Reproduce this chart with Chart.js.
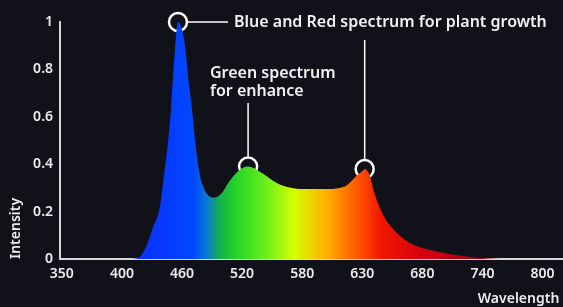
<!DOCTYPE html>
<html>
<head>
<meta charset="utf-8">
<script src="https://cdn.jsdelivr.net/npm/chart.js@4.4.0/dist/chart.umd.min.js"></script>
<style>
  html, body { margin: 0; padding: 0; background: #111119; }
  #wrap { width: 563px; height: 307px; position: relative; }
</style>
</head>
<body>
<div id="wrap"><canvas id="grafico"></canvas></div>
<script>
// tick labels of the wavelength axis (they sit at equal spacing)
const tickLabels = [350, 400, 460, 520, 580, 630, 680, 740, 800];
const yTicks = [0, 0.2, 0.4, 0.6, 0.8, 1];

// spectrum
const wavelength = [410, 418, 425, 430, 438, 442, 446, 449, 451, 453, 456, 463, 466, 470, 474, 478, 484, 493, 500, 506, 516, 526, 537, 555, 570, 586, 600, 611, 617, 625, 630, 632, 636, 640, 647, 655, 669, 697, 737, 757, 800];
const intensity  = [0, 0.01, 0.06, 0.12, 0.22, 0.35, 0.49, 0.63, 0.77, 0.88, 1.0, 0.90, 0.77, 0.63, 0.46, 0.35, 0.28, 0.26, 0.28, 0.32, 0.37, 0.39, 0.37, 0.32, 0.30, 0.295, 0.295, 0.30, 0.31, 0.35, 0.37, 0.38, 0.355, 0.28, 0.19, 0.13, 0.07, 0.03, 0.005, 0, 0];

// the marked peaks
const peakWave = [456, 526, 632];
const peakValue = [1.0, 0.39, 0.38];

// wavelength -> position on the evenly spaced axis
function toPos(w) {
  for (var i = 0; i < tickLabels.length - 1; i++) {
    if (w <= tickLabels[i + 1]) {
      return i + (w - tickLabels[i]) / (tickLabels[i + 1] - tickLabels[i]);
    }
  }
  return tickLabels.length - 1;
}

// colour stops of the fill, by wavelength
const stopWave  = [420, 472, 484, 498, 515, 545, 572, 600, 625, 645, 680, 740];
const stopColor = ['#0a30ff', '#0048ff', '#0a78d8', '#16b04a', '#26d626', '#6ef01a', '#d4ff00', '#ffb000', '#ff5a00', '#f21800', '#d60010', '#a00018'];

function spectrumFill(context) {
  const chart = context.chart;
  const area = chart.chartArea;
  if (!area) return '#0048ff';
  const x = chart.scales.x;
  const g = chart.ctx.createLinearGradient(area.left, 0, area.right, 0);
  const w = area.right - area.left;
  for (var i = 0; i < stopWave.length; i++) {
    var p = (x.getPixelForValue(toPos(stopWave[i])) - area.left) / w;
    g.addColorStop(Math.min(1, Math.max(0, p)), stopColor[i]);
  }
  return g;
}

const notas = {
  id: 'notas',
  afterDatasetsDraw(chart) {
    const ctx = chart.ctx;
    const meta = chart.getDatasetMeta(1);
    const r = 10;
    const b = meta.data[0], gr = meta.data[1], rd = meta.data[2];
    ctx.save();
    ctx.strokeStyle = '#ffffff';
    ctx.lineWidth = 1.5;
    ctx.beginPath();
    ctx.moveTo(b.x + r, b.y);
    ctx.lineTo(b.x + 50, b.y);
    ctx.moveTo(gr.x, gr.y - r);
    ctx.lineTo(gr.x, 103);
    ctx.moveTo(rd.x, rd.y - r);
    ctx.lineTo(rd.x, 40);
    ctx.stroke();
    ctx.fillStyle = '#f2f2f2';
    ctx.font = '600 16px "Noto Sans"';
    ctx.textBaseline = 'middle';
    ctx.fillText('Blue and Red spectrum for plant growth', b.x + 56, b.y);
    ctx.fillText('Green spectrum', 210, 73);
    ctx.fillText('for enhance', 210, 91);
    ctx.restore();
  }
};

new Chart(document.getElementById('grafico'), {
  type: 'line',
  data: {
    datasets: [{
      data: wavelength.map((w, i) => ({ x: toPos(w), y: intensity[i] })),
      fill: 'origin',
      backgroundColor: spectrumFill,
      borderWidth: 0,
      pointRadius: 0,
      cubicInterpolationMode: 'monotone'
    }, {
      type: 'scatter',
      data: peakWave.map((w, i) => ({ x: toPos(w), y: peakValue[i] })),
      pointRadius: 9,
      pointBorderWidth: 2.5,
      pointBorderColor: '#ffffff',
      pointBackgroundColor: 'rgba(0,0,0,0)'
    }]
  },
  options: {
    responsive: true,
    maintainAspectRatio: false,
    animation: false,
    clip: false,
    layout: { autoPadding: false, padding: { top: 22, right: 0, left: 0, bottom: 0 } },
    plugins: { legend: { display: false }, tooltip: { enabled: false } },
    scales: {
      x: {
        type: 'linear',
        min: -0.03,
        max: 8.34,
        grid: { display: false, drawTicks: false },
        border: { color: '#d8d8d8', width: 2 },
        afterBuildTicks: s => { s.ticks = tickLabels.map((t, i) => ({ value: i })); },
        afterFit: s => { s.height = 48; s.paddingLeft = 0; s.paddingRight = 0; },
        ticks: {
          color: '#ececec',
          font: { family: 'Noto Sans', size: 14, weight: '600' },
          padding: 7,
          maxRotation: 0,
          autoSkip: false,
          callback: v => tickLabels[v]
        },
        title: {
          display: true,
          text: 'Wavelength ',
          align: 'end',
          color: '#ececec',
          font: { family: 'Noto Sans', size: 14, weight: '600' },
          padding: { top: 0, bottom: 0 }
        }
      },
      y: {
        min: 0,
        max: 1,
        grid: { display: false, drawTicks: false },
        border: { color: '#d8d8d8', width: 2 },
        afterBuildTicks: s => { s.ticks = yTicks.map(v => ({ value: v })); },
        afterFit: s => { s.width = 60; s.paddingTop = 0; s.paddingBottom = 0; },
        ticks: {
          color: '#ececec',
          font: { family: 'Noto Sans', size: 14, weight: '600' },
          padding: 7,
          callback: v => String(v)
        },
        title: {
          display: true,
          text: 'Intensity',
          align: 'start',
          color: '#ececec',
          font: { family: 'Noto Sans', size: 14, weight: '600' },
          padding: { top: 8, bottom: 0 }
        }
      }
    }
  },
  plugins: [notas]
});
</script>
</body>
</html>
